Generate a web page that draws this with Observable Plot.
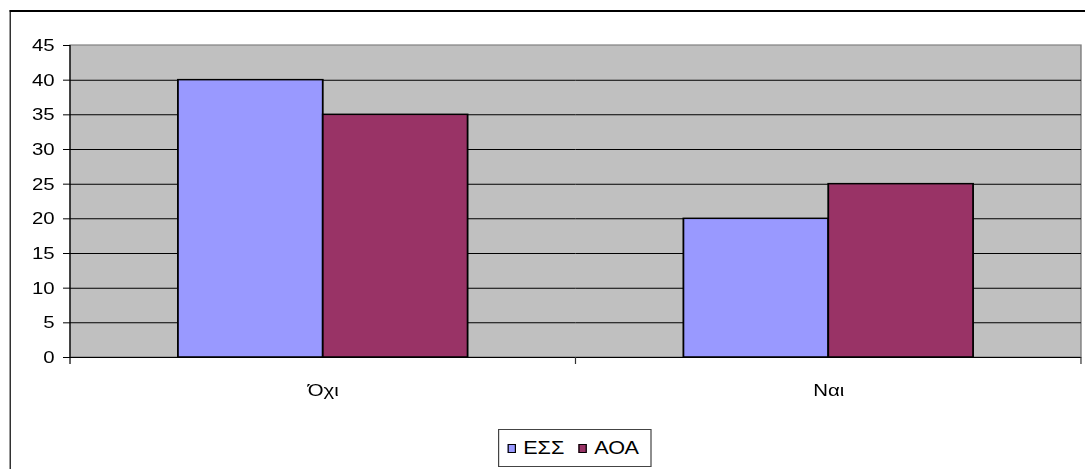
<!DOCTYPE html>
<html>
<head>
<meta charset="utf-8">
<script src="https://cdn.jsdelivr.net/npm/d3@7"></script>
<script src="https://cdn.jsdelivr.net/npm/@observablehq/plot@0.6"></script>
<style>
  html, body { margin: 0; padding: 0; overflow: hidden; background: #fff; }
  #stage { position: absolute; left: 0; top: 0; height: 469px; transform-origin: 0 0; }
  #outer { position: absolute; left: 7.5px; top: 9.5px; width: 2000px; height: 1000px;
           border-style: solid; border-color: #000; border-width: 2px 0 0 1.67px; pointer-events: none; }
  #legend { position: absolute; box-sizing: border-box; border: 1px solid #444; background: #fff;
            display: flex; align-items: center; font-family: "Liberation Sans", Arial, sans-serif;
            font-size: 18px; color: #000; }
  #legend .sw { display: inline-block; box-sizing: border-box; width: 7.5px; height: 9px;
                border: 1px solid #000; margin-right: 5.8px; }
  #legend .item { display: flex; align-items: center; }
  #legend .item + .item { margin-left: 11.7px; }
</style>
</head>
<body>
<div id="stage"><div id="outer"></div></div>
<script>
// Answers per group
const categories = ["Όχι", "Ναι"];
const series = ["ΕΣΣ", "ΑΟΑ"];
const essValues = [40, 20];
const aoaValues = [35, 25];
const yTicks = [0, 5, 10, 15, 20, 25, 30, 35, 40, 45];
const seriesColors = ["#9999FF", "#993366"];

// The drawing is laid out in a narrower space and widened horizontally.
const S = 1.2;
const W = 1085 / S;
const H = 469;

const data = categories.flatMap((c, i) => [
  {category: c, series: series[0], value: essValues[i]},
  {category: c, series: series[1], value: aoaValues[i]}
]);

const stage = document.getElementById("stage");
stage.style.width = W + "px";
stage.style.transform = `scaleX(${S})`;

const chart = Plot.plot({
  width: W,
  height: H,
  marginLeft: 70 / S,
  marginRight: 4 / S,
  marginTop: 45,
  marginBottom: 112,
  style: {
    fontFamily: "'Liberation Sans', Arial, sans-serif",
    fontSize: "17px",
    color: "#000",
    background: "none",
    overflow: "visible"
  },
  fx: {domain: categories, padding: 0, round: false, label: null, axis: "bottom", tickSize: 0, tickPadding: 26},
  x: {domain: series, paddingInner: 0, paddingOuter: 0.745, round: false, axis: null},
  y: {domain: [0, 45], ticks: yTicks, tickSize: 7 / S, tickPadding: 9 / S, label: null},
  color: {domain: series, range: seriesColors},
  marks: [
    Plot.ruleY(yTicks.filter(t => t > 0 && t < 45), {stroke: "#000", strokeWidth: 1}),
    Plot.barY(data, {fx: "category", x: "series", y: "value", fill: "series", stroke: "#000", strokeWidth: 1.5}),
    Plot.ruleY([0], {stroke: "#000", strokeWidth: 1.2})
  ]
});
chart.style.position = "absolute";
chart.style.left = "0px";
chart.style.top = "0px";
chart.style.maxWidth = "none";
stage.insertBefore(chart, stage.firstChild);

// Plot area background, border, left axis line and category boundary ticks
const svg = d3.select(chart);
const fxs = chart.scale("fx");
const ys = chart.scale("y");
const [r0, r1] = fxs.range;
const step = (r1 - r0) / categories.length;
const yTop = ys.apply(45), yBase = ys.apply(0);

svg.insert("rect", ":first-child")
  .attr("x", r0).attr("y", yTop).attr("width", r1 - r0).attr("height", yBase - yTop)
  .attr("fill", "#C0C0C0").attr("stroke", "#808080").attr("stroke-width", 1.2);

svg.append("line")
  .attr("x1", r0).attr("x2", r0).attr("y1", yTop).attr("y2", yBase + 7)
  .attr("stroke", "#000").attr("stroke-width", 1);

for (let i = 1; i <= categories.length; i++) {
  const bx = r0 + i * step;
  svg.append("line")
    .attr("x1", bx).attr("x2", bx).attr("y1", yBase).attr("y2", yBase + 7)
    .attr("stroke", "#333").attr("stroke-width", 1);
}

// Legend below the chart
const legend = d3.select(stage).append("div").attr("id", "legend")
  .style("left", (498 / S) + "px").style("top", "429px")
  .style("width", ((652 - 498) / S) + "px").style("height", "38px")
  .style("padding-left", (8 / S) + "px");
series.forEach((s, i) => {
  const item = legend.append("div").attr("class", "item");
  item.append("span").attr("class", "sw").style("background", seriesColors[i]);
  item.append("span").text(s);
});
</script>
</body>
</html>
